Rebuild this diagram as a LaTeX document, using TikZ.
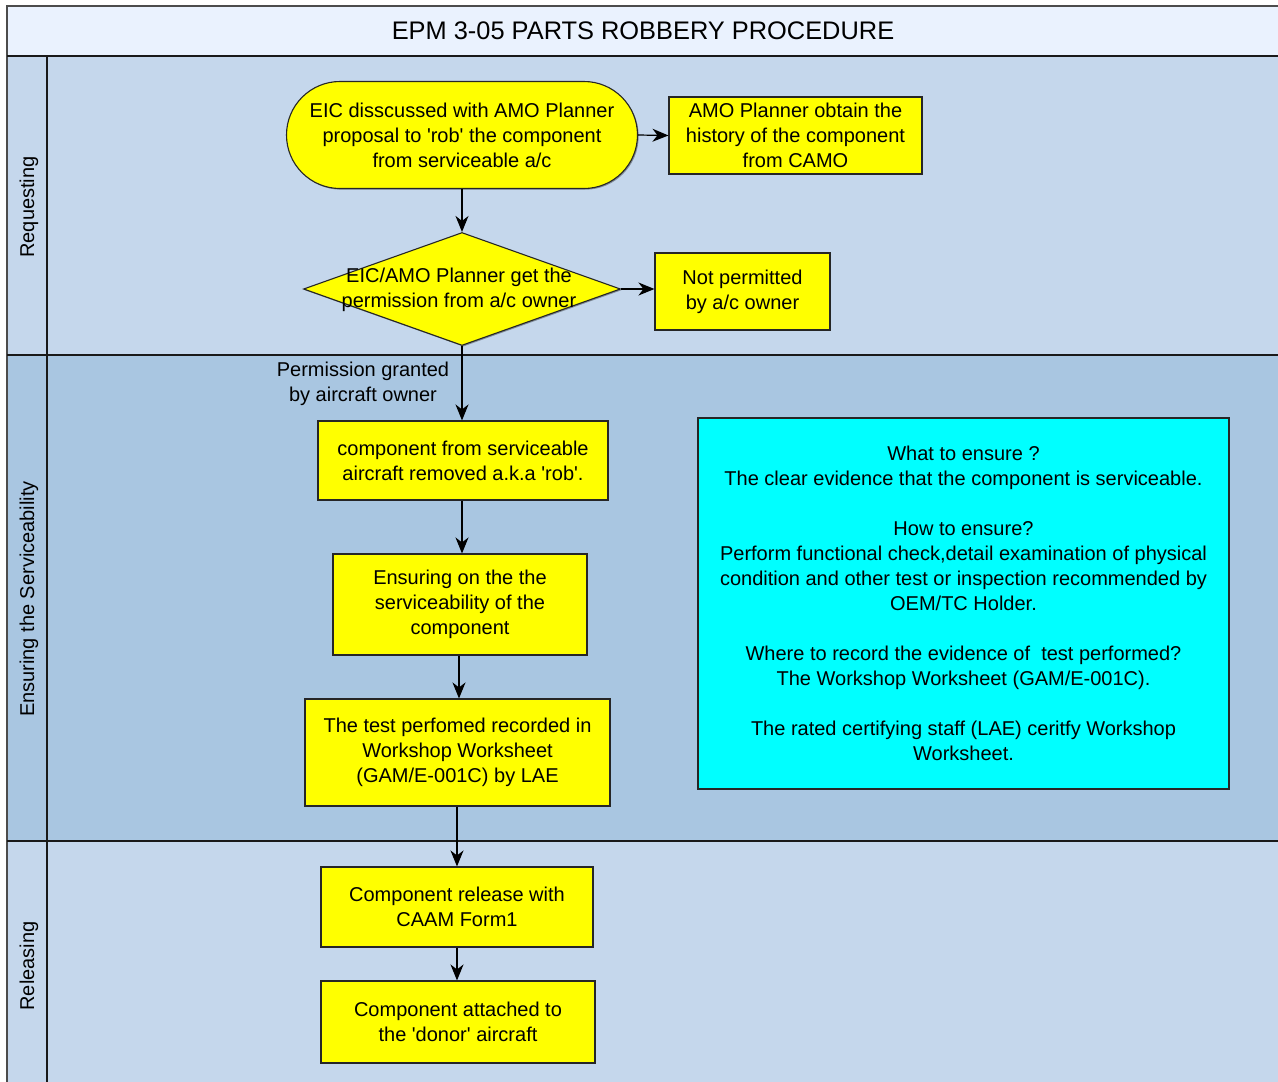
\documentclass[tikz,border=0pt]{standalone}
\usepackage{fontspec}
\setmainfont{Liberation Sans}
\usetikzlibrary{shapes.geometric,shapes.misc,arrows.meta,shadows}

\definecolor{titlefill}{HTML}{EAF2FE}
\definecolor{lanelight}{HTML}{C5D7EC}
\definecolor{lanedark}{HTML}{A9C6E1}
\definecolor{procyellow}{HTML}{FFFF00}
\definecolor{notecyan}{HTML}{00FFFF}

% straight apostrophe
\newcommand{\sq}{\textquotesingle}

\begin{document}
\begin{tikzpicture}[x=1pt,y=-1pt,
  font=\fontsize{20}{25}\selectfont,
  boxshadow/.style={drop shadow={shadow xshift=1.2pt,shadow yshift=-1.2pt,opacity=0.35,fill=black}},
  proc/.style={rectangle,draw=black!85,line width=1.1pt,fill=procyellow,align=center,inner sep=2pt,boxshadow},
  term/.style={rounded rectangle,draw=black!85,line width=1.1pt,fill=procyellow,align=center,inner sep=2pt,boxshadow},
  decide/.style={diamond,draw=black!85,line width=1.1pt,fill=procyellow,inner sep=0pt,boxshadow},
  note/.style={rectangle,draw=black!85,line width=1.1pt,fill=notecyan,align=center,inner sep=2pt,boxshadow},
  flow/.style={-{Stealth[length=16pt,width=13pt,inset=5pt]},line width=1.2pt},
  lanelabel/.style={rotate=90,anchor=center},
  laneline/.style={line width=1.4pt,draw=black!90}]

\useasboundingbox (0,0) rectangle (1278,1082);

% pool background: title band and three lanes
\fill[titlefill] (7,6) rectangle (1278,56);
\fill[lanelight] (7,56) rectangle (1278,355);
\fill[lanedark] (7,355) rectangle (1278,841);
\fill[lanelight] (7,841) rectangle (1278,1082);

% pool frame and lane separators
\draw[line width=2pt,draw=black!70] (1278,6) -- (7,6) -- (7,1082);
\draw[laneline] (7,56) -- (1278,56);
\draw[laneline] (7,355) -- (1278,355);
\draw[laneline] (7,841) -- (1278,841);
\draw[laneline] (47,56) -- (47,1082);

% title and lane names
\node (title) at (643,31) {\fontsize{25.4}{28}\selectfont EPM 3-05 PARTS ROBBERY PROCEDURE};
\node[lanelabel] (laneReq) at (29,207) {Requesting};
\node[lanelabel] (laneSrv) at (29,599) {Ensuring the Serviceability};
\node[lanelabel] (laneRel) at (29,966) {Releasing};

% Requesting lane
\node[term,minimum width=355pt,minimum height=107pt] (start) at (462,135)
  {EIC disscussed with AMO Planner\\proposal to \sq rob\sq\ the component\\from serviceable a/c};
\node[proc,minimum width=253pt,minimum height=77pt] (history) at (795.5,135.5)
  {AMO Planner obtain the\\history of the component\\from CAMO};
\node[decide,minimum width=317pt,minimum height=113pt] (perm) at (462,289) {};
\node[align=center] (permtext) at (459,290) {EIC/AMO Planner get the\\permission from a/c owner};
\node[proc,minimum width=175pt,minimum height=77pt] (denied) at (742.5,291.5)
  {Not permitted\\by a/c owner};

% Ensuring the Serviceability lane
\node[proc,minimum width=290pt,minimum height=79pt] (removed) at (463,460.5)
  {component from serviceable\\aircraft removed a.k.a \sq rob\sq.};
\node[proc,minimum width=254pt,minimum height=101pt] (ensure) at (460,604.5)
  {Ensuring on the the\\serviceability of the\\component};
\node[proc,minimum width=305pt,minimum height=107pt] (record) at (457.5,752.5)
  {The test perfomed recorded in\\Workshop Worksheet\\(GAM/E-001C) by LAE};
\node[note,minimum width=531pt,minimum height=371pt] (guide) at (963.5,603.5)
  {What to ensure ?\\
   The clear evidence that the component is serviceable.\\[25pt]
   How to ensure?\\
   Perform functional check,detail examination of physical\\
   condition and other test or inspection recommended by\\
   OEM/TC Holder.\\[25pt]
   Where to record the evidence of\ \ test performed?\\
   The Workshop Worksheet (GAM/E-001C).\\[25pt]
   The rated certifying staff (LAE) ceritfy Workshop\\
   Worksheet.};

% Releasing lane
\node[proc,minimum width=272pt,minimum height=80pt] (release) at (457,907)
  {Component release with\\CAAM Form1};
\node[proc,minimum width=274pt,minimum height=82pt] (attach) at (458,1022)
  {Component attached to\\the \sq donor\sq\ aircraft};

% connectors
\draw[flow] (start.south) -- (perm.north);
\draw[flow] (start.east) -- (history.west);
\draw[flow] (perm.east) -- (denied.west |- perm.east);
\draw[flow] (perm.south) -- (perm.south |- removed.north);
\node[align=center] (grant) at (363,383.5) {Permission granted\\by aircraft owner};
\draw[flow] (removed.south -| perm.south) -- (perm.south |- ensure.north);
\draw[flow] (ensure.south -| 459,0) -- (459,0 |- record.north);
\draw[flow] (record.south -| 457,0) -- (457,0 |- release.north);
\draw[flow] (release.south) -- (release.south |- attach.north);

\end{tikzpicture}
\end{document}
